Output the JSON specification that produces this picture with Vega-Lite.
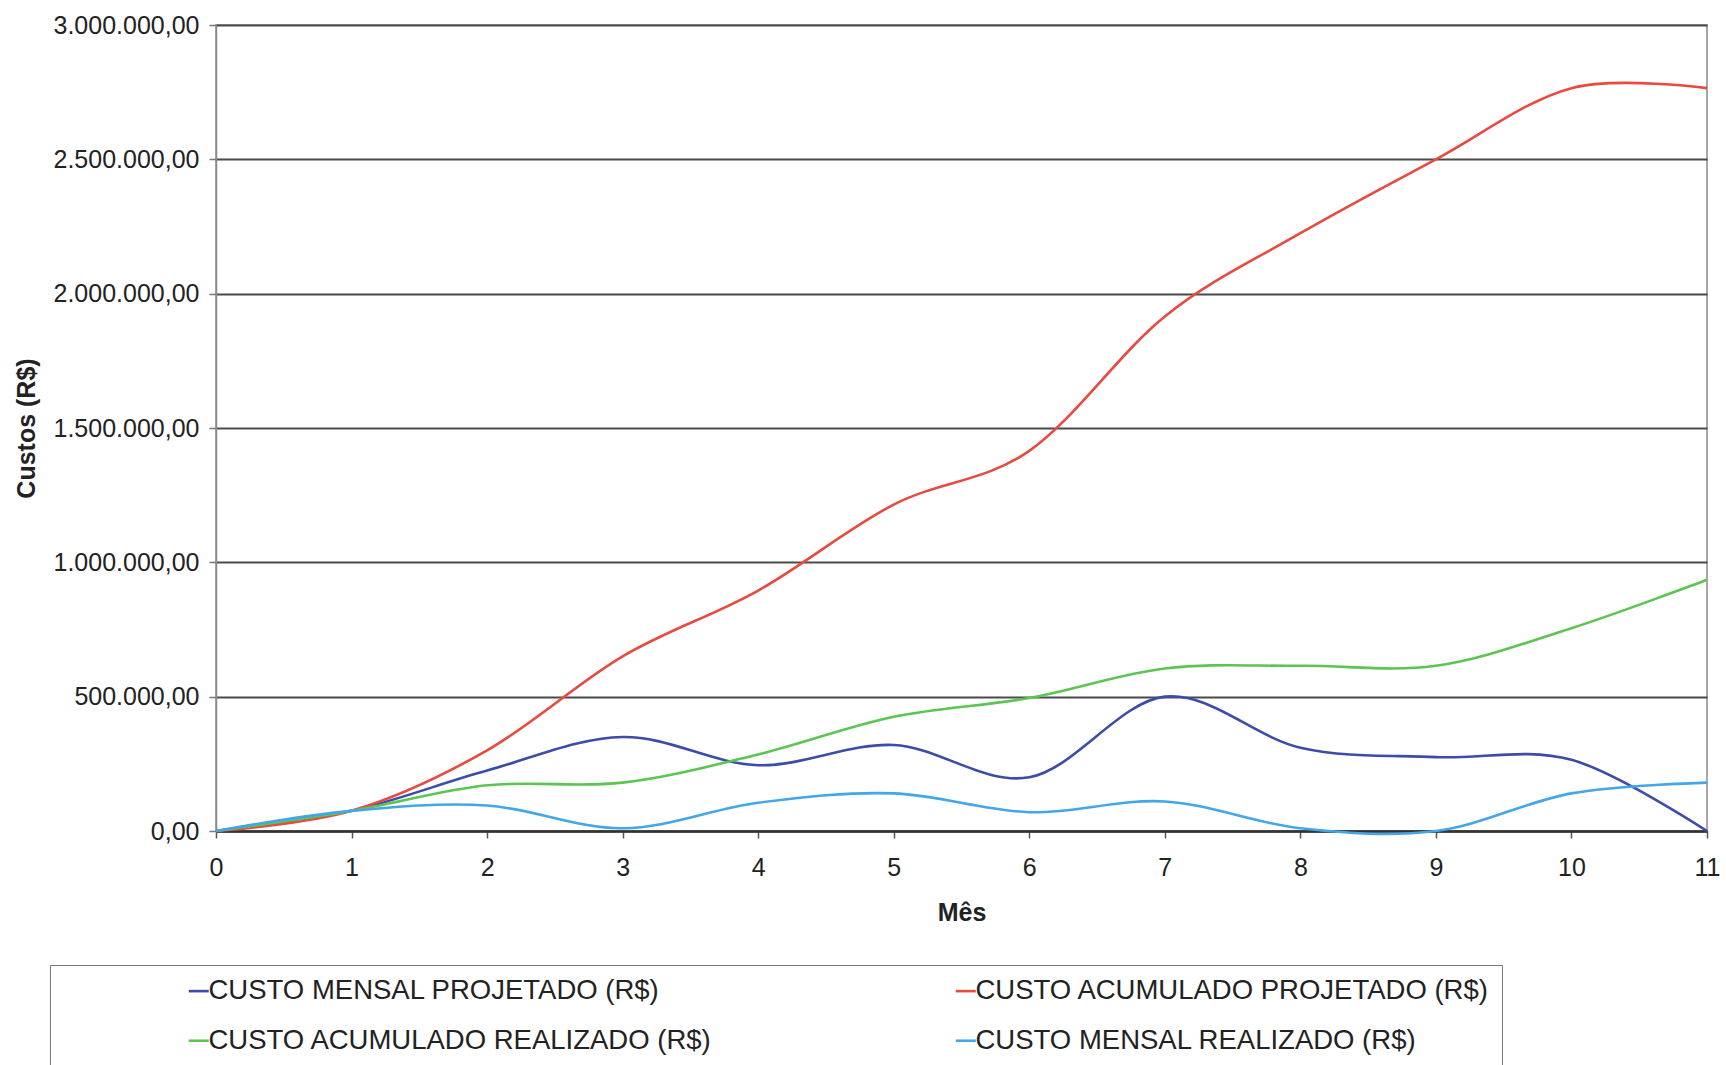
{
  "$schema": "https://vega.github.io/schema/vega-lite/v6.json",
  "width": 1491,
  "height": 806,
  "autosize": {"type": "none"},
  "padding": {"left": 216, "top": 25, "right": 19, "bottom": 234},
  "background": "white",
  "config": {
    "locale": {"number": {"decimal": ",", "thousands": ".", "grouping": [3], "currency": ["R$ ", ""]}},
    "font": "Liberation Sans",
    "view": {"stroke": "#8a8a8a", "strokeWidth": 1.5}
  },
  "data": {
    "values": [
      {"mes": 0, "serie": "CUSTO MENSAL PROJETADO (R$)", "custo": 0},
      {"mes": 1, "serie": "CUSTO MENSAL PROJETADO (R$)", "custo": 75000},
      {"mes": 2, "serie": "CUSTO MENSAL PROJETADO (R$)", "custo": 225000},
      {"mes": 3, "serie": "CUSTO MENSAL PROJETADO (R$)", "custo": 350000},
      {"mes": 4, "serie": "CUSTO MENSAL PROJETADO (R$)", "custo": 245000},
      {"mes": 5, "serie": "CUSTO MENSAL PROJETADO (R$)", "custo": 320000},
      {"mes": 6, "serie": "CUSTO MENSAL PROJETADO (R$)", "custo": 200000},
      {"mes": 7, "serie": "CUSTO MENSAL PROJETADO (R$)", "custo": 500000},
      {"mes": 8, "serie": "CUSTO MENSAL PROJETADO (R$)", "custo": 310000},
      {"mes": 9, "serie": "CUSTO MENSAL PROJETADO (R$)", "custo": 275000},
      {"mes": 10, "serie": "CUSTO MENSAL PROJETADO (R$)", "custo": 265000},
      {"mes": 11, "serie": "CUSTO MENSAL PROJETADO (R$)", "custo": 0},
      {"mes": 0, "serie": "CUSTO ACUMULADO PROJETADO (R$)", "custo": 0},
      {"mes": 1, "serie": "CUSTO ACUMULADO PROJETADO (R$)", "custo": 75000},
      {"mes": 2, "serie": "CUSTO ACUMULADO PROJETADO (R$)", "custo": 300000},
      {"mes": 3, "serie": "CUSTO ACUMULADO PROJETADO (R$)", "custo": 650000},
      {"mes": 4, "serie": "CUSTO ACUMULADO PROJETADO (R$)", "custo": 895000},
      {"mes": 5, "serie": "CUSTO ACUMULADO PROJETADO (R$)", "custo": 1215000},
      {"mes": 6, "serie": "CUSTO ACUMULADO PROJETADO (R$)", "custo": 1415000},
      {"mes": 7, "serie": "CUSTO ACUMULADO PROJETADO (R$)", "custo": 1915000},
      {"mes": 8, "serie": "CUSTO ACUMULADO PROJETADO (R$)", "custo": 2225000},
      {"mes": 9, "serie": "CUSTO ACUMULADO PROJETADO (R$)", "custo": 2500000},
      {"mes": 10, "serie": "CUSTO ACUMULADO PROJETADO (R$)", "custo": 2765000},
      {"mes": 11, "serie": "CUSTO ACUMULADO PROJETADO (R$)", "custo": 2765000},
      {"mes": 0, "serie": "CUSTO ACUMULADO REALIZADO (R$)", "custo": 0},
      {"mes": 1, "serie": "CUSTO ACUMULADO REALIZADO (R$)", "custo": 75000},
      {"mes": 2, "serie": "CUSTO ACUMULADO REALIZADO (R$)", "custo": 170000},
      {"mes": 3, "serie": "CUSTO ACUMULADO REALIZADO (R$)", "custo": 180000},
      {"mes": 4, "serie": "CUSTO ACUMULADO REALIZADO (R$)", "custo": 285000},
      {"mes": 5, "serie": "CUSTO ACUMULADO REALIZADO (R$)", "custo": 425000},
      {"mes": 6, "serie": "CUSTO ACUMULADO REALIZADO (R$)", "custo": 495000},
      {"mes": 7, "serie": "CUSTO ACUMULADO REALIZADO (R$)", "custo": 605000},
      {"mes": 8, "serie": "CUSTO ACUMULADO REALIZADO (R$)", "custo": 615000},
      {"mes": 9, "serie": "CUSTO ACUMULADO REALIZADO (R$)", "custo": 615000},
      {"mes": 10, "serie": "CUSTO ACUMULADO REALIZADO (R$)", "custo": 755000},
      {"mes": 11, "serie": "CUSTO ACUMULADO REALIZADO (R$)", "custo": 935000},
      {"mes": 0, "serie": "CUSTO MENSAL REALIZADO (R$)", "custo": 0},
      {"mes": 1, "serie": "CUSTO MENSAL REALIZADO (R$)", "custo": 75000},
      {"mes": 2, "serie": "CUSTO MENSAL REALIZADO (R$)", "custo": 95000},
      {"mes": 3, "serie": "CUSTO MENSAL REALIZADO (R$)", "custo": 10000},
      {"mes": 4, "serie": "CUSTO MENSAL REALIZADO (R$)", "custo": 105000},
      {"mes": 5, "serie": "CUSTO MENSAL REALIZADO (R$)", "custo": 140000},
      {"mes": 6, "serie": "CUSTO MENSAL REALIZADO (R$)", "custo": 70000},
      {"mes": 7, "serie": "CUSTO MENSAL REALIZADO (R$)", "custo": 110000},
      {"mes": 8, "serie": "CUSTO MENSAL REALIZADO (R$)", "custo": 10000},
      {"mes": 9, "serie": "CUSTO MENSAL REALIZADO (R$)", "custo": 0},
      {"mes": 10, "serie": "CUSTO MENSAL REALIZADO (R$)", "custo": 140000},
      {"mes": 11, "serie": "CUSTO MENSAL REALIZADO (R$)", "custo": 180000}
    ]
  },
  "mark": {"type": "line", "interpolate": "cardinal", "strokeWidth": 2.6},
  "encoding": {
    "x": {
      "field": "mes",
      "type": "quantitative",
      "title": "Mês",
      "scale": {"domain": [0, 11], "nice": false, "zero": true},
      "axis": {
        "values": [0, 1, 2, 3, 4, 5, 6, 7, 8, 9, 10, 11],
        "format": "d",
        "grid": false,
        "domainColor": "#333",
        "domainWidth": 2.5,
        "tickColor": "#555",
        "tickSize": 7,
        "tickWidth": 1.5,
        "labelPadding": 17,
        "labelFontSize": 25,
        "labelColor": "#222",
        "labelFlush": false,
        "titleFontSize": 25,
        "titleFontWeight": "bold",
        "titleColor": "#222",
        "titlePadding": 20
      }
    },
    "y": {
      "field": "custo",
      "type": "quantitative",
      "title": "Custos (R$)",
      "scale": {"domain": [0, 3000000], "nice": false},
      "axis": {
        "values": [0, 500000, 1000000, 1500000, 2000000, 2500000, 3000000],
        "format": ",.2f",
        "grid": true,
        "gridColor": "#4a4a4a",
        "gridWidth": 1.8,
        "gridOpacity": 1,
        "domainColor": "#8a8a8a",
        "domainWidth": 1.5,
        "tickColor": "#777",
        "tickSize": 7,
        "tickWidth": 1.5,
        "labelPadding": 10,
        "labelFontSize": 25,
        "labelColor": "#222",
        "labelFlush": false,
        "titleFontSize": 25,
        "titleFontWeight": "bold",
        "titleColor": "#222",
        "titlePadding": 14
      }
    },
    "color": {
      "field": "serie",
      "type": "nominal",
      "scale": {
        "domain": ["CUSTO MENSAL PROJETADO (R$)", "CUSTO ACUMULADO PROJETADO (R$)", "CUSTO ACUMULADO REALIZADO (R$)", "CUSTO MENSAL REALIZADO (R$)"],
        "range": ["#3c4ca8", "#e84a40", "#5cc552", "#42a6e8"]
      },
      "legend": {
        "title": null,
        "orient": "none",
        "legendX": -166,
        "legendY": 940,
        "direction": "horizontal",
        "columns": 2,
        "gridAlign": "each",
        "strokeColor": "#777",
        "fillColor": "white",
        "padding": 12,
        "rowPadding": 21,
        "columnPadding": 116,
        "symbolType": "stroke",
        "symbolSize": 400,
        "symbolStrokeWidth": 2.6,
        "symbolOffset": 123,
        "labelOffset": -4,
        "labelFontSize": 27.5,
        "labelColor": "#222",
        "labelLimit": 0
      }
    }
  }
}
